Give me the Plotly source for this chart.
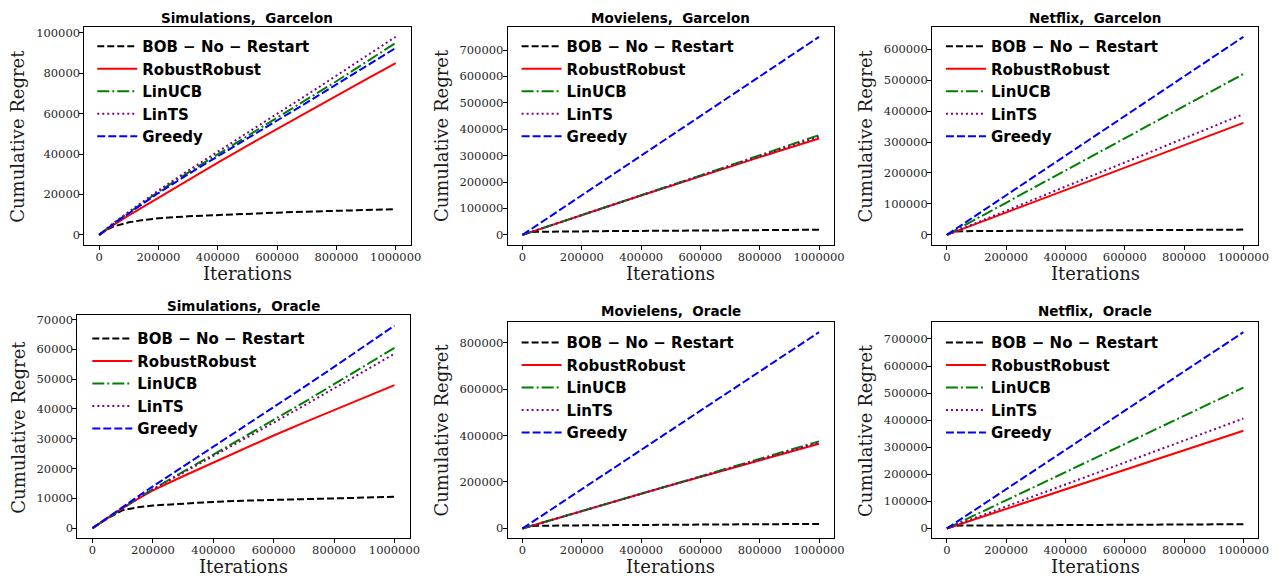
import plotly.graph_objects as go

W, H = 1286, 577
PAGE_MARGIN = 8  # browser default body margin shifts the figure

iterations = [0, 25000, 50000, 100000, 150000, 200000, 300000, 400000, 500000,
              600000, 700000, 800000, 900000, 1000000]

series_names = ["BOB \u2212 No \u2212 Restart", "RobustRobust", "LinUCB", "LinTS", "Greedy"]

titles = ["Simulations,\u00a0 Garcelon", "Movielens,\u00a0 Garcelon", "Netflix,\u00a0 Garcelon",
          "Simulations,\u00a0 Oracle", "Movielens,\u00a0 Oracle", "Netflix,\u00a0 Oracle"]

# ---- Simulations, Garcelon
sim_g_bob    = [0, 2500, 4200, 6200, 7400, 8200, 9200, 9900, 10500, 11000, 11500, 11900, 12300, 12700]
sim_g_robust = [0, 2600, 5000, 9600, 14000, 18400, 27200, 35800, 44200, 52500, 60700, 68800, 76900, 85000]
sim_g_linucb = [0, 3000, 5800, 11000, 16200, 21300, 30800, 40000, 49000, 58000, 67000, 76000, 85500, 95000]
sim_g_lints  = [0, 3100, 6000, 11400, 16700, 22000, 31800, 41300, 50600, 59900, 69200, 78800, 88400, 98000]
sim_g_greedy = [0, 2900, 5600, 10700, 15700, 20700, 30000, 39000, 47800, 56600, 65400, 74400, 83400, 92500]

# ---- Movielens, Garcelon
mov_g_bob    = [0, 10000, 11500, 12500, 13000, 13500, 14300, 15000, 15800, 16500, 17300, 18000, 18800, 19500]
mov_g_robust = [0, 9500, 19000, 38000, 56500, 75000, 112000, 149000, 186000, 222000, 258500, 294500, 330000, 365000]
mov_g_linucb = [0, 9500, 19000, 38000, 56700, 75500, 113000, 150000, 187500, 225000, 263000, 301000, 339500, 378000]
mov_g_lints  = [0, 9500, 19000, 38000, 56600, 75300, 112500, 149500, 186800, 223500, 260500, 297500, 334500, 372000]
mov_g_greedy = [0, 19000, 37500, 75000, 112500, 150000, 225000, 300000, 375000, 450000, 525000, 600000, 675000, 750000]

# ---- Netflix, Garcelon
net_g_bob    = [0, 10000, 12000, 12500, 12800, 13000, 13500, 14000, 14500, 15000, 15500, 16000, 16500, 17000]
net_g_robust = [0, 9000, 18000, 36000, 54000, 72000, 108500, 145000, 181000, 217500, 254000, 290000, 326000, 362000]
net_g_linucb = [0, 13000, 26000, 52000, 78000, 104000, 156000, 208000, 260000, 312000, 364000, 416000, 468000, 520000]
net_g_lints  = [0, 10000, 19500, 39000, 58500, 78000, 117000, 156000, 195000, 234000, 273000, 312000, 351000, 390000]
net_g_greedy = [0, 16000, 32000, 64000, 96000, 128000, 192000, 256000, 320000, 384000, 448000, 512000, 576000, 640000]

# ---- Simulations, Oracle
sim_o_bob    = [0, 1700, 3300, 6000, 7000, 7600, 8300, 8800, 9200, 9500, 9800, 10000, 10250, 10500]
sim_o_robust = [0, 1700, 3400, 6700, 9800, 12700, 17400, 22000, 26600, 31100, 35400, 39600, 43800, 48000]
sim_o_linucb = [0, 1700, 3400, 6800, 10000, 13100, 19000, 24700, 30500, 36300, 42200, 48300, 54400, 60500]
sim_o_lints  = [0, 1700, 3400, 6800, 10000, 13000, 18600, 24000, 29700, 35400, 41100, 46900, 52700, 58500]
sim_o_greedy = [0, 1800, 3600, 7100, 10600, 14000, 20600, 27200, 33900, 40600, 47300, 54100, 61000, 68000]

# ---- Movielens, Oracle
mov_o_bob    = [0, 10000, 11500, 12500, 13000, 13500, 14300, 15000, 15800, 16500, 17300, 18000, 18800, 19500]
mov_o_robust = [0, 9500, 19000, 38000, 56500, 75000, 112000, 149000, 186000, 222000, 258500, 294500, 330000, 365000]
mov_o_linucb = [0, 9500, 19000, 38000, 56600, 75300, 112500, 149500, 186800, 223800, 261000, 298500, 336500, 375000]
mov_o_lints  = [0, 9500, 19000, 38000, 56500, 75200, 112300, 149300, 186400, 223000, 259700, 296300, 333000, 370000]
mov_o_greedy = [0, 21000, 42000, 84500, 127000, 169000, 253500, 338000, 422500, 507000, 591500, 676000, 760500, 845000]

# ---- Netflix, Oracle
net_o_bob    = [0, 9000, 10500, 11000, 11300, 11600, 12000, 12500, 13000, 13500, 14000, 14500, 15000, 15500]
net_o_robust = [0, 9000, 18000, 36000, 54000, 72000, 108500, 145000, 181000, 217000, 253000, 289000, 325000, 361000]
net_o_linucb = [0, 13000, 26000, 52000, 78000, 104000, 156000, 208000, 260000, 312000, 364000, 416000, 468000, 520000]
net_o_lints  = [0, 10000, 20300, 40600, 61000, 81200, 121800, 162400, 203000, 243600, 284200, 324800, 365400, 406000]
net_o_greedy = [0, 18000, 36000, 72500, 109000, 145000, 217500, 290000, 362500, 435000, 507500, 580000, 652500, 725000]

panels_data = [
    [sim_g_bob, sim_g_robust, sim_g_linucb, sim_g_lints, sim_g_greedy],
    [mov_g_bob, mov_g_robust, mov_g_linucb, mov_g_lints, mov_g_greedy],
    [net_g_bob, net_g_robust, net_g_linucb, net_g_lints, net_g_greedy],
    [sim_o_bob, sim_o_robust, sim_o_linucb, sim_o_lints, sim_o_greedy],
    [mov_o_bob, mov_o_robust, mov_o_linucb, mov_o_lints, mov_o_greedy],
    [net_o_bob, net_o_robust, net_o_linucb, net_o_lints, net_o_greedy],
]

x_ticks = [0, 200000, 400000, 600000, 800000, 1000000]
y_ticks = [
    [0, 20000, 40000, 60000, 80000, 100000],
    [0, 100000, 200000, 300000, 400000, 500000, 600000, 700000],
    [0, 100000, 200000, 300000, 400000, 500000, 600000],
    [0, 10000, 20000, 30000, 40000, 50000, 60000, 70000],
    [0, 200000, 400000, 600000, 800000],
    [0, 100000, 200000, 300000, 400000, 500000, 600000, 700000],
]

# styles
colors = ["black", "red", "green", "purple", "blue"]
dashes = ["7px,3px", "solid", "12px,3px,2px,3px", "2px,3px", "8px,3px"]

# panel boxes in window pixels: (left, right, top, bottom)
boxes = [
    (85, 414, 24, 243),
    (512, 841, 24, 243),
    (940, 1269, 24, 243),
    (78, 413, 314, 538),
    (512, 841, 321, 538),
    (940, 1269, 321, 538),
]
title_y = [15, 15, 15, 305, 310, 310]
xlabel_y = [272, 272, 272, 566, 566, 566]
ylabel_x = [18, 446, 873, 19, 445, 873]
legend_top = [27, 27, 27, 321, 325, 325]
legend_left_pad = [8, 9, 9, 10, 9, 9]


def px(x):
    return (x - PAGE_MARGIN) / W


def py(y):
    return 1 - (y - PAGE_MARGIN) / H


fig = go.Figure()
layout = dict(
    width=W, height=H,
    margin=dict(l=0, r=0, t=0, b=0),
    paper_bgcolor="white", plot_bgcolor="white",
    showlegend=True,
    annotations=[],
)

tick_font = dict(family="DejaVu Serif", size=11.5, color="#262626")

for i, data in enumerate(panels_data):
    n = i + 1
    xa = "x" if n == 1 else f"x{n}"
    ya = "y" if n == 1 else f"y{n}"
    lg = "legend" if n == 1 else f"legend{n}"
    for j, ys in enumerate(data):
        fig.add_trace(go.Scatter(
            x=iterations, y=ys, mode="lines", name=series_names[j],
            line=dict(color=colors[j], width=2, dash=dashes[j]),
            xaxis=xa, yaxis=ya, legend=lg, showlegend=True,
        ))
    l, r, t, b = boxes[i]
    allv = [v for s in data for v in s]
    ymin, ymax = min(allv), max(allv)
    span = ymax - ymin
    xmin, xmax = min(iterations), max(iterations)
    xspan = xmax - xmin
    axis_common = dict(
        showgrid=False, zeroline=False, showline=True, linecolor="black", linewidth=1,
        mirror=True, ticks="outside", ticklen=4, tickwidth=1, tickcolor="black",
        tickfont=tick_font, ticklabelstandoff=-3,
    )
    layout["xaxis" if n == 1 else f"xaxis{n}"] = dict(
        domain=[px(l), px(r)], anchor=ya,
        range=[xmin - 0.05 * xspan, xmax + 0.05 * xspan],
        tickvals=x_ticks, ticktext=[str(v) for v in x_ticks],
        **axis_common,
    )
    layout["yaxis" if n == 1 else f"yaxis{n}"] = dict(
        domain=[py(b), py(t)], anchor=xa,
        range=[ymin - 0.05 * span, ymax + 0.05 * span],
        tickvals=y_ticks[i], ticktext=[str(v) for v in y_ticks[i]],
        **axis_common,
    )
    layout[lg] = dict(
        x=px(l + legend_left_pad[i]), y=py(legend_top[i]), xanchor="left", yanchor="top",
        bgcolor="rgba(255,255,255,0)", borderwidth=0, itemwidth=40,
        font=dict(family="DejaVu Sans", size=15, color="black", weight="bold"),
        tracegroupgap=0,
    )
    cx = (l + r) / 2
    layout["annotations"].append(dict(
        text=titles[i], x=px(cx), y=py(title_y[i]), xref="paper", yref="paper",
        xanchor="center", yanchor="middle", showarrow=False,
        font=dict(family="DejaVu Sans", size=13.5, color="black", weight="bold"),
    ))
    layout["annotations"].append(dict(
        text="Iterations", x=px(cx), y=py(xlabel_y[i]), xref="paper", yref="paper",
        xanchor="center", yanchor="middle", showarrow=False,
        font=dict(family="DejaVu Serif", size=18, color="#1a1a1a"),
    ))
    layout["annotations"].append(dict(
        text="Cumulative Regret", x=px(ylabel_x[i]), y=py((t + b) / 2), xref="paper", yref="paper",
        xanchor="center", yanchor="middle", showarrow=False, textangle=-90,
        font=dict(family="DejaVu Serif", size=18, color="#1a1a1a"),
    ))

fig.update_layout(**layout)
fig.write_html("out.html")
